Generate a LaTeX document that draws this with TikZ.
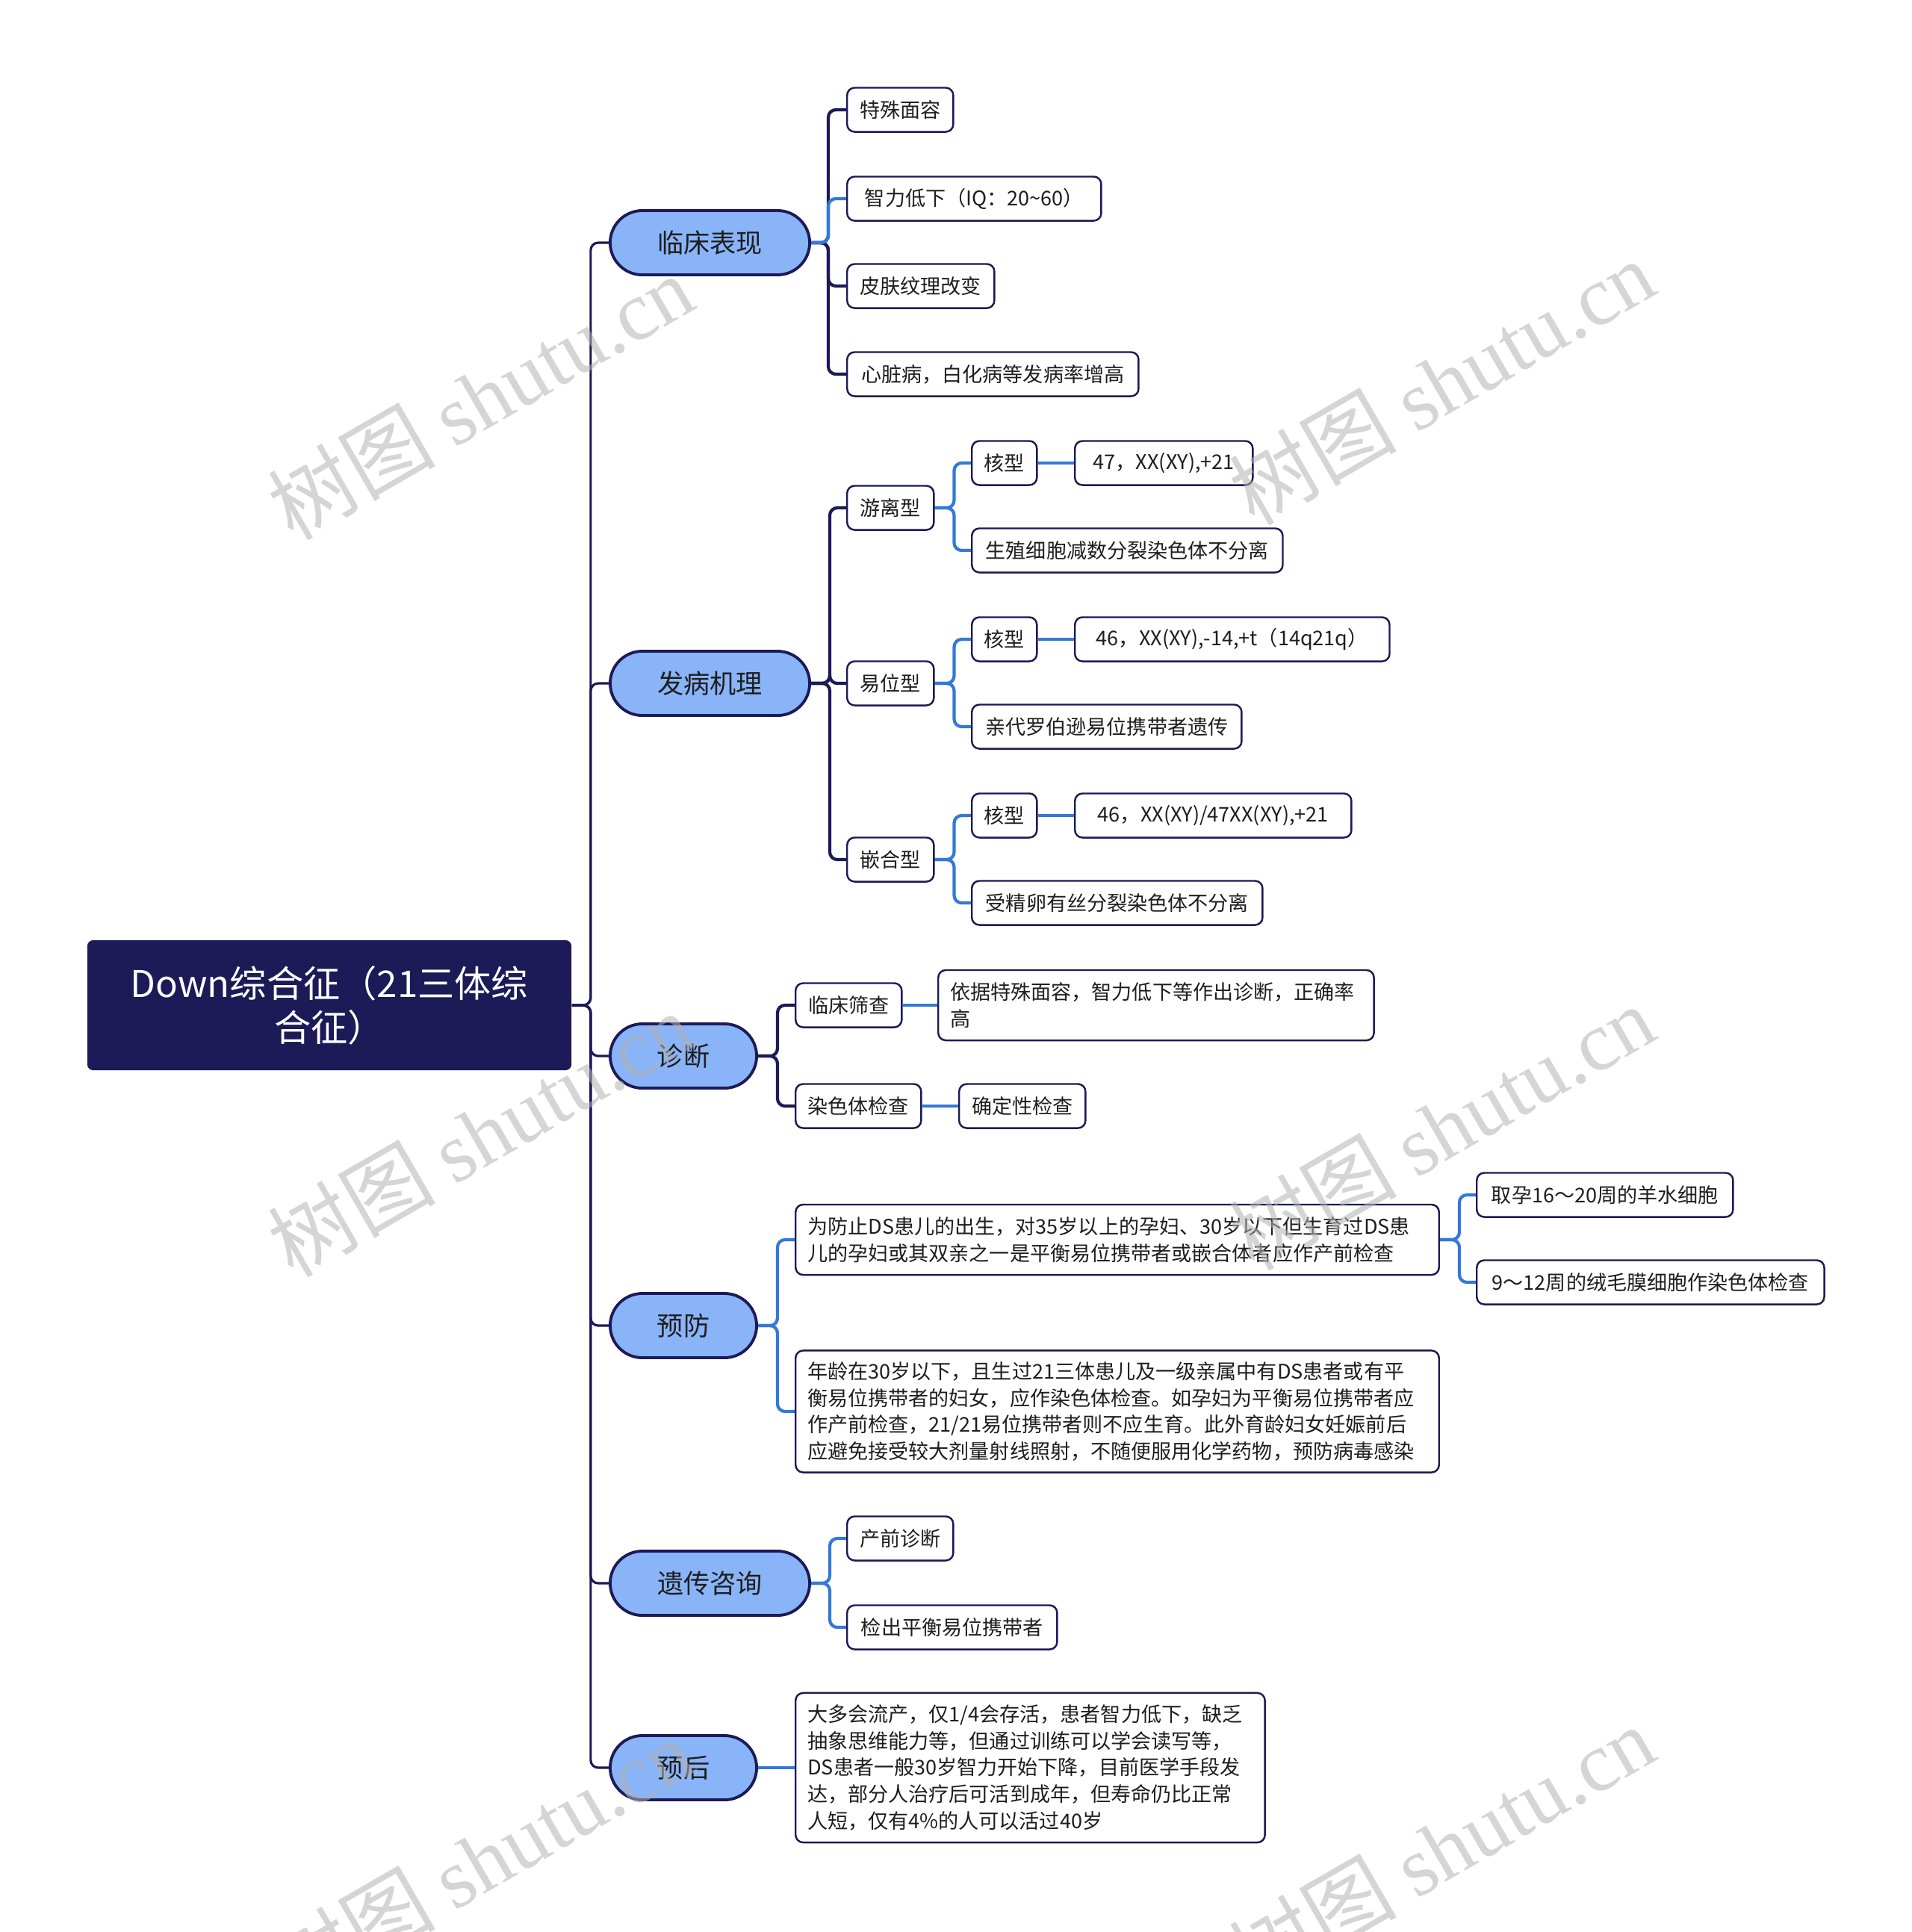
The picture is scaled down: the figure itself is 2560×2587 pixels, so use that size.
\documentclass[tikz,border=0pt]{standalone}
\usepackage{fontspec}
\setmainfont{Noto Sans CJK SC}
\newfontfamily\wmlat{Liberation Serif}
\usetikzlibrary{shapes.misc,backgrounds}
\definecolor{navy}{HTML}{1C1A57}
\definecolor{pill}{HTML}{8AB4F8}
\definecolor{lblue}{HTML}{3479D6}
\definecolor{txt}{HTML}{1E1E1E}
\tikzset{
 rootbox/.style={rectangle, rounded corners=0.08cm, fill=navy, text=white, align=center, font=\fontsize{14pt}{16.8pt}\selectfont, minimum width=6.48cm, minimum height=1.74cm, inner sep=0pt},
 topic/.style={rounded rectangle, fill=pill, draw=navy, line width=1.1pt, text=txt, font=\fontsize{10pt}{12pt}\selectfont, minimum height=0.86cm, inner xsep=0pt, anchor=west},
 leaf/.style={rectangle, rounded corners=0.1cm, draw=navy, line width=0.7pt, fill=white, text=txt, font=\fontsize{7.7pt}{10.1pt}\selectfont, minimum height=0.59cm, inner xsep=0.05cm, anchor=west},
 para/.style={leaf, align=left, inner xsep=0.16cm, inner ysep=0.1cm},
 darkc/.style={draw=navy, line width=1.2pt, rounded corners=0.1cm},
 bluec/.style={draw=lblue, line width=1.2pt, rounded corners=0.1cm},
 spinec/.style={draw=navy, line width=0.9pt, rounded corners=0.1cm},
 wm/.style={text=gray!60, text opacity=0.55, rotate=30, font=\fontsize{32pt}{36pt}\selectfont}
}
\begin{document}
\begin{tikzpicture}[x=0.01cm, y=-0.01cm]
\useasboundingbox (0,0) rectangle (2560,2587);
% root
\node[rootbox] (root) at (441,1346) {Down综合征（21三体综\\合征）};
% topics
\node[topic, minimum width=2.67cm] (t1) at (815,325) {临床表现};
\node[topic, minimum width=2.67cm] (t2) at (815,915) {发病机理};
\node[topic, minimum width=1.96cm] (t3) at (815,1414) {诊断};
\node[topic, minimum width=1.96cm] (t4) at (815,1775) {预防};
\node[topic, minimum width=2.67cm] (t5) at (815,2120) {遗传咨询};
\node[topic, minimum width=1.96cm] (t6) at (815,2367) {预后};
% 临床表现
\node[leaf, minimum width=1.42cm] (a1) at (1133,147) {特殊面容};
\node[leaf, minimum width=3.40cm] (a2) at (1133,266) {智力低下（IQ：20\textasciitilde 60）};
\node[leaf, minimum width=1.97cm] (a3) at (1133,383) {皮肤纹理改变};
\node[leaf, minimum width=3.90cm] (a4) at (1133,501) {心脏病，白化病等发病率增高};
% 发病机理
\node[leaf, minimum width=1.16cm] (b1) at (1133,680) {游离型};
\node[leaf, minimum width=1.16cm] (b2) at (1133,915) {易位型};
\node[leaf, minimum width=1.16cm] (b3) at (1133,1151) {嵌合型};
\node[leaf, minimum width=0.87cm] (b11) at (1300,620) {核型};
\node[leaf, minimum width=4.16cm] (b12) at (1300,737) {生殖细胞减数分裂染色体不分离};
\node[leaf, minimum width=0.87cm] (b21) at (1300,856) {核型};
\node[leaf, minimum width=3.61cm] (b22) at (1300,973) {亲代罗伯逊易位携带者遗传};
\node[leaf, minimum width=0.87cm] (b31) at (1300,1092) {核型};
\node[leaf, minimum width=3.89cm] (b32) at (1300,1209) {受精卵有丝分裂染色体不分离};
\node[leaf, minimum width=2.38cm] (b111) at (1438,620) {47，XX(XY),+21};
\node[leaf, minimum width=4.21cm] (b211) at (1438,856) {46，XX(XY),-14,+t（14q21q）};
\node[leaf, minimum width=3.70cm] (b311) at (1438,1092) {46，XX(XY)/47XX(XY),+21};
% 诊断
\node[leaf, minimum width=1.42cm] (c1) at (1064,1346) {临床筛查};
\node[leaf, minimum width=1.68cm] (c2) at (1064,1481) {染色体检查};
\node[para, text width=5.51cm, minimum height=0.94cm] (c11) at (1255,1346) {依据特殊面容，智力低下等作出诊断，正确率\\高};
\node[leaf, minimum width=1.69cm] (c21) at (1283,1481) {确定性检查};
% 预防
\node[para, text width=8.29cm, minimum height=0.94cm] (d1) at (1064,1660) {为防止DS患儿的出生，对35岁以上的孕妇、30岁以下但生育过DS患\\儿的孕妇或其双亲之一是平衡易位携带者或嵌合体者应作产前检查};
\node[para, text width=8.29cm, minimum height=1.63cm] (d2) at (1064,1890) {年龄在30岁以下，且生过21三体患儿及一级亲属中有DS患者或有平\\衡易位携带者的妇女，应作染色体检查。如孕妇为平衡易位携带者应\\作产前检查，21/21易位携带者则不应生育。此外育龄妇女妊娠前后\\应避免接受较大剂量射线照射，不随便服用化学药物，预防病毒感染};
\node[leaf, minimum width=3.43cm] (d11) at (1976,1600) {取孕16～20周的羊水细胞};
\node[leaf, minimum width=4.65cm] (d12) at (1976,1717) {9～12周的绒毛膜细胞作染色体检查};
% 遗传咨询
\node[leaf, minimum width=1.42cm] (e1) at (1133,2060) {产前诊断};
\node[leaf, minimum width=2.81cm] (e2) at (1133,2179) {检出平衡易位携带者};
% 预后
\node[para, text width=5.96cm, minimum height=2.00cm] (f1) at (1064,2367) {大多会流产，仅1/4会存活，患者智力低下，缺乏\\抽象思维能力等，但通过训练可以学会读写等，\\DS患者一般30岁智力开始下降，目前医学手段发\\达，部分人治疗后可活到成年，但寿命仍比正常\\人短，仅有4\%的人可以活过40岁};
% connectors
\begin{pgfonlayer}{background}
\foreach \t in {t1,t2,t3,t4,t5,t6}
  \draw[spinec] (root.east) -- ++(25,0) |- (\t.west);
\foreach \c in {a1,a3,a4}
  \draw[darkc] (t1.east) -- ++(23,0) |- (\c.west);
\draw[bluec] (t1.east) -- ++(23,0) |- (a2.west);
\foreach \c in {b1,b2,b3}
  \draw[darkc] (t2.east) -- ++(25,0) |- (\c.west);
\draw[bluec] (b1.east) -- ++(26,0) |- (b11.west);
\draw[bluec] (b1.east) -- ++(26,0) |- (b12.west);
\draw[bluec] (b2.east) -- ++(26,0) |- (b21.west);
\draw[bluec] (b2.east) -- ++(26,0) |- (b22.west);
\draw[bluec] (b3.east) -- ++(26,0) |- (b31.west);
\draw[bluec] (b3.east) -- ++(26,0) |- (b32.west);
\draw[bluec] (b11.east) -- (b111.west);
\draw[bluec] (b21.east) -- (b211.west);
\draw[bluec] (b31.east) -- (b311.west);
\draw[darkc] (t3.east) -- ++(26,0) |- (c1.west);
\draw[darkc] (t3.east) -- ++(26,0) |- (c2.west);
\draw[bluec] (c1.east) -- (c11.west);
\draw[bluec] (c2.east) -- (c21.west);
\draw[bluec] (t4.east) -- ++(26,0) |- (d1.west);
\draw[bluec] (t4.east) -- ++(26,0) |- (d2.west);
\draw[bluec] (d1.east) -- ++(26,0) |- (d11.west);
\draw[bluec] (d1.east) -- ++(26,0) |- (d12.west);
\draw[bluec] (t5.east) -- ++(25,0) |- (e1.west);
\draw[bluec] (t5.east) -- ++(25,0) |- (e2.west);
\draw[bluec] (t6.east) -- (f1.west);
\end{pgfonlayer}
% watermarks
\node[wm] (wm1) at (643,531) {树图 {\wmlat shutu.cn}};
\node[wm] (wm2) at (1930,511) {树图 {\wmlat shutu.cn}};
\node[wm] (wm3) at (643,1518) {树图 {\wmlat shutu.cn}};
\node[wm] (wm4) at (1930,1509) {树图 {\wmlat shutu.cn}};
\node[wm] (wm5) at (643,2490) {树图 {\wmlat shutu.cn}};
\node[wm] (wm6) at (1930,2474) {树图 {\wmlat shutu.cn}};
\end{tikzpicture}
\end{document}
